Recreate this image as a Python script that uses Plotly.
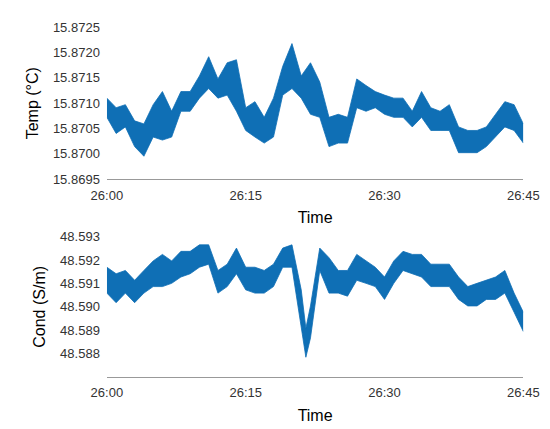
import plotly.graph_objects as go

t_x = list(range(46))
temp_hi = [15.87110,15.87091,15.87097,15.87065,15.87059,15.87097,15.87123,15.87084,15.87123,15.87123,
           15.87154,15.87192,15.87148,15.87180,15.87186,15.87091,15.87103,15.87072,15.87110,15.87173,
           15.87218,15.87154,15.87180,15.87142,15.87072,15.87078,15.87072,15.87148,15.87135,15.87123,
           15.87116,15.87110,15.87110,15.87084,15.87123,15.87091,15.87084,15.87097,15.87053,15.87046,
           15.87046,15.87053,15.87078,15.87103,15.87097,15.87059]
temp_lo = [15.87072,15.87040,15.87053,15.87014,15.86995,15.87033,15.87027,15.87033,15.87084,15.87084,
           15.87110,15.87129,15.87110,15.87116,15.87084,15.87046,15.87033,15.87021,15.87033,15.87116,
           15.87129,15.87110,15.87078,15.87072,15.87014,15.87021,15.87021,15.87091,15.87084,15.87091,
           15.87078,15.87072,15.87072,15.87053,15.87072,15.87046,15.87046,15.87046,15.87002,15.87002,
           15.87002,15.87014,15.87033,15.87053,15.87046,15.87021]

c_x = list(range(22)) + [21.5] + list(range(22, 46))
cond_hi = [48.59170,48.59142,48.59156,48.59114,48.59156,48.59197,48.59225,48.59197,48.59238,48.59238,
           48.59266,48.59266,48.59156,48.59183,48.59252,48.59170,48.59170,48.59156,48.59183,48.59252,
           48.59266,48.59073,48.58908,48.59004,48.59252,48.59211,48.59156,48.59156,48.59225,48.59197,
           48.59170,48.59128,48.59197,48.59238,48.59225,48.59225,48.59183,48.59183,48.59183,48.59128,
           48.59087,48.59101,48.59114,48.59128,48.59156,48.59059,48.58977]
cond_lo = [48.59059,48.59018,48.59059,48.59018,48.59059,48.59087,48.59087,48.59101,48.59128,48.59142,
           48.59170,48.59183,48.59059,48.59087,48.59142,48.59073,48.59059,48.59059,48.59087,48.59170,
           48.59170,48.58922,48.58784,48.58867,48.59156,48.59059,48.59059,48.59046,48.59114,48.59101,
           48.59087,48.59032,48.59101,48.59156,48.59142,48.59128,48.59087,48.59087,48.59087,48.59032,
           48.59004,48.59004,48.59032,48.59032,48.59059,48.58977,48.58894]

tick_vals = [0, 15, 30, 45]
tick_text = ["26:00", "26:15", "26:30", "26:45"]
blue = "#0f6fb5"

fig = go.Figure()
for xs, hi, lo, ax in [(t_x, temp_hi, temp_lo, ("x", "y")), (c_x, cond_hi, cond_lo, ("x2", "y2"))]:
    fig.add_trace(go.Scatter(x=xs, y=hi, mode="lines", line=dict(color=blue, width=0.8),
                             xaxis=ax[0], yaxis=ax[1], showlegend=False))
    fig.add_trace(go.Scatter(x=xs, y=lo, mode="lines", line=dict(color=blue, width=0.8),
                             fill="tonexty", fillcolor=blue, xaxis=ax[0], yaxis=ax[1], showlegend=False))

font = dict(family="Liberation Sans, Arial", size=13, color="#333")
tfont = dict(family="Liberation Sans, Arial", size=16, color="#000")
xcommon = dict(range=[0, 45], tickvals=tick_vals, ticktext=tick_text, showgrid=False, zeroline=False,
               showline=True, linecolor="#999", ticks="", tickfont=font, ticklabelstandoff=4,
               title=dict(text="Time", font=tfont, standoff=10))
ycommon = dict(showgrid=False, zeroline=False, showline=False, ticks="", tickfont=font, ticklabelstandoff=6)

fig.update_layout(
    width=550, height=429, margin=dict(l=0, r=0, t=0, b=0),
    plot_bgcolor="white", paper_bgcolor="white",
    xaxis=dict(domain=[0.16, 0.964], anchor="y", **xcommon),
    yaxis=dict(domain=[0.604, 0.970], anchor="x", range=[15.8695, 15.8725], dtick=0.0005,
               tickformat=".4f", title=dict(text="Temp (°C)", font=tfont, standoff=10), **ycommon),
    xaxis2=dict(domain=[0.16, 0.964], anchor="y2", **xcommon),
    yaxis2=dict(domain=[0.126, 0.464], anchor="x2", range=[48.587, 48.593], tickvals=[48.588,48.589,48.590,48.591,48.592,48.593],
                tickformat=".3f", title=dict(text="Cond (S/m)", font=tfont, standoff=10), **ycommon),
)
fig.write_html("out.html")
